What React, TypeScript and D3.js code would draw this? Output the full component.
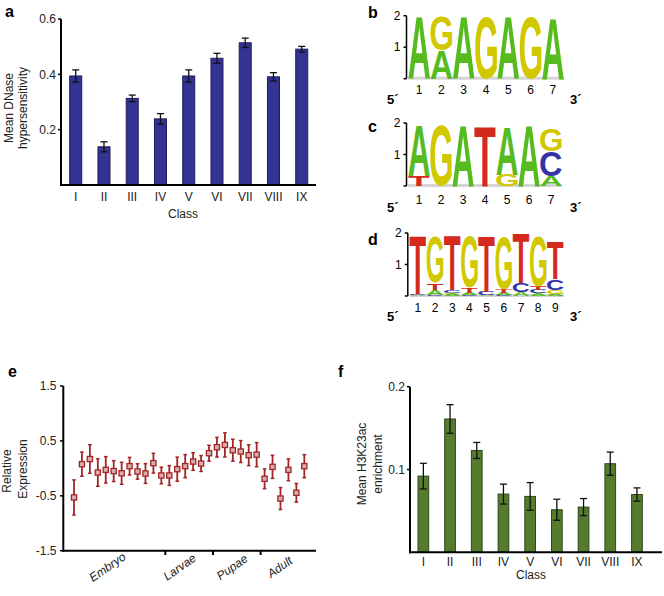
import React from "react";
import * as d3 from "d3";

const FONT = '"Liberation Sans", Arial, Helvetica, sans-serif';

// ---------- Panel a ----------
const classes = ["I", "II", "III", "IV", "V", "VI", "VII", "VIII", "IX"];
const dnaseMean = [0.394, 0.138, 0.313, 0.239, 0.394, 0.458, 0.514, 0.391, 0.491];
const dnaseErr = [0.022, 0.018, 0.012, 0.019, 0.022, 0.018, 0.017, 0.015, 0.01];
const dnaseTicks = [0.2, 0.4, 0.6];

// ---------- Panel f ----------
const h3Mean = [0.092, 0.161, 0.123, 0.0703, 0.0675, 0.0514, 0.0546, 0.107, 0.0698];
const h3Err = [0.0155, 0.0173, 0.0097, 0.012, 0.0167, 0.0127, 0.0103, 0.014, 0.008];
const h3Ticks = [0.1, 0.2];

// ---------- Panel e ----------
const exprMean = [-0.53, 0.076, 0.17, -0.076, -0.027, -0.05, -0.09, 0.04, -0.057, -0.094, 0.094, -0.13, -0.13, -0.015, 0.04, 0.124, 0.088, 0.276, 0.385, 0.427, 0.33, 0.306, 0.24, 0.25, -0.19, 0.027, -0.55, -0.027, -0.445, 0.04];
const exprErr = [0.32, 0.22, 0.26, 0.25, 0.24, 0.19, 0.2, 0.16, 0.14, 0.18, 0.18, 0.15, 0.18, 0.22, 0.21, 0.16, 0.145, 0.145, 0.18, 0.22, 0.2, 0.2, 0.19, 0.22, 0.18, 0.21, 0.2, 0.2, 0.17, 0.21];
const exprTicks = [-1.5, -0.5, 0.5, 1.5];
const stageNames = ["Embryo", "Larvae", "Pupae", "Adult"];
const stageLabelIdx = [4.2, 13.3, 19.9, 25.9];
const stageBounds = [11.5, 17.5, 23.5];

// ---------- Logos (bottom -> top, heights in bits) ----------
type Col = [string, number][];
const logoB: Col[] = [
  [["A", 1.98]],
  [["A", 0.9], ["G", 1.08]],
  [["A", 1.98]],
  [["G", 1.98]],
  [["A", 1.98]],
  [["G", 1.96]],
  [["A", 1.95]],
];
const logoC: Col[] = [
  [["T", 0.33], ["A", 1.61]],
  [["G", 1.93]],
  [["A", 1.93]],
  [["T", 1.9]],
  [["G", 0.36], ["A", 1.52]],
  [["A", 1.93]],
  [["A", 0.31], ["C", 0.8], ["G", 0.7]],
];
const logoD: Col[] = [
  [["A", 0.03], ["C", 0.04], ["T", 1.86]],
  [["C", 0.04], ["A", 0.15], ["T", 0.22], ["G", 1.46]],
  [["A", 0.06], ["G", 0.04], ["C", 0.08], ["T", 1.72]],
  [["C", 0.04], ["A", 0.06], ["T", 0.17], ["G", 1.62]],
  [["A", 0.04], ["C", 0.1], ["T", 1.76]],
  [["C", 0.03], ["A", 0.07], ["T", 0.1], ["G", 1.68]],
  [["A", 0.12], ["C", 0.28], ["T", 1.55]],
  [["A", 0.08], ["C", 0.1], ["T", 0.12], ["G", 1.58]],
  [["A", 0.07], ["G", 0.12], ["C", 0.35], ["T", 1.2]],
];
const bitTicks = [0, 1, 2];

const letterColor: Record<string, string> = {
  A: "#55bb1e",
  C: "#3434a8",
  G: "#d2c800",
  T: "#d42a1e",
};

const metricsCache: Record<string, { l: number; r: number; a: number; d: number }> = {};
function letterMetrics(ch: string) {
  if (metricsCache[ch]) return metricsCache[ch];
  let res = { l: 0, r: 70, a: 72, d: 0 };
  try {
    const ctx = document.createElement("canvas").getContext("2d");
    if (ctx) {
      ctx.font = `bold 100px ${FONT}`;
      const m = ctx.measureText(ch);
      if (m.actualBoundingBoxRight !== undefined) {
        res = {
          l: m.actualBoundingBoxLeft,
          r: m.actualBoundingBoxRight,
          a: m.actualBoundingBoxAscent,
          d: m.actualBoundingBoxDescent,
        };
      }
    }
  } catch (e) {}
  metricsCache[ch] = res;
  return res;
}

function Letter({ ch, x, y, w, h }: { ch: string; x: number; y: number; w: number; h: number }) {
  if (h < 0.3) return null;
  const m = letterMetrics(ch);
  const sx = w / (m.l + m.r);
  const sy = h / (m.a + m.d);
  return (
    <text
      x={0}
      y={0}
      fontSize={100}
      fontWeight="bold"
      fontFamily={FONT}
      fill={letterColor[ch]}
      transform={`translate(${x},${y + h}) scale(${sx},${sy}) translate(${m.l},${-m.d})`}
    >
      {ch}
    </text>
  );
}

function Logo({ cols, x0, x1, base, label, labelY, numY, primeY }: { cols: Col[]; x0: number; x1: number; base: number; label: string; labelY: number; numY: number; primeY: number }) {
  const y = d3.scaleLinear().domain([0, 2]).range([base, base - 63]);
  const xb = d3.scaleBand<number>().domain(cols.map((_, i) => i)).range([x0, x1]);
  const w = xb.bandwidth();
  const axisX = x0 - 1.5;
  return (
    <g fontFamily={FONT}>
      <text x={368} y={labelY} fontSize={16} fontWeight="bold">{label}</text>
      <rect x={x0} y={base - 2} width={x1 - x0} height={3} fill="#d4d4d4" />
      {cols.map((col, i) => {
        let acc = 0;
        return (
          <g key={i}>
            {col.map(([ch, v], j) => {
              const yTop = y(acc + v);
              const yBot = y(acc);
              acc += v;
              return <Letter key={j} ch={ch} x={(xb(i) as number) + 0.3} y={yTop} w={w - 0.6} h={yBot - yTop} />;
            })}
          </g>
        );
      })}
      <line x1={axisX} x2={axisX} y1={y(2)} y2={y(0)} stroke="#000" strokeWidth={1.5} />
      {bitTicks.map((t) => (
        <g key={t}>
          <line x1={axisX - 3} x2={axisX} y1={y(t)} y2={y(t)} stroke="#000" strokeWidth={1.5} />
          {t > 0 && (
            <text x={axisX - 6} y={y(t)} dy="0.35em" fontSize={12} textAnchor="end">{t}</text>
          )}
        </g>
      ))}
      {cols.map((_, i) => (
        <text key={i} x={(xb(i) as number) + w / 2} y={numY} dy="0.35em" fontSize={12} textAnchor="middle">
          {i + 1}
        </text>
      ))}
      <text x={387} y={primeY} dy="0.35em" fontSize={13} fontWeight="bold">5´</text>
      <text x={570} y={primeY} dy="0.35em" fontSize={13} fontWeight="bold">3´</text>
    </g>
  );
}

function BarPanel(props: {
  values: number[]; errs: number[]; ticks: number[]; yMax: number;
  axisX: number; axisRight: number; yTop: number; yBottom: number;
  bandStart: number; step: number; barW: number; fill: string; stroke: string;
  tickY: number; classX: number; classY: number; ylines: string[]; ylx: number[]; yly: number;
  label: string; labelX: number; labelY: number; tickLabelEnd: number;
}) {
  const p = props;
  const x = d3.scaleBand().domain(classes).range([p.bandStart, p.bandStart + p.step * classes.length]);
  const y = d3.scaleLinear().domain([0, p.yMax]).range([p.yBottom, p.yTop]);
  return (
    <g fontFamily={FONT}>
      <text x={p.labelX} y={p.labelY} fontSize={16} fontWeight="bold">{p.label}</text>
      {p.values.map((v, i) => {
        const cx = (x(classes[i]) as number) + x.bandwidth() / 2;
        return (
          <g key={i}>
            <rect x={cx - p.barW / 2} y={y(v)} width={p.barW} height={y(0) - y(v)} fill={p.fill} stroke={p.stroke} strokeWidth={1} />
            <line x1={cx} x2={cx} y1={y(v + p.errs[i])} y2={y(v - p.errs[i])} stroke="#111" strokeWidth={1.3} />
            <line x1={cx - 3.5} x2={cx + 3.5} y1={y(v + p.errs[i])} y2={y(v + p.errs[i])} stroke="#111" strokeWidth={1.3} />
            <line x1={cx - 3.5} x2={cx + 3.5} y1={y(v - p.errs[i])} y2={y(v - p.errs[i])} stroke="#111" strokeWidth={1.3} />
            <text x={cx} y={p.tickY} dy="0.35em" fontSize={12} textAnchor="middle" fill="#222">{classes[i]}</text>
          </g>
        );
      })}
      <line x1={p.axisX} x2={p.axisX} y1={p.yTop} y2={p.yBottom + 1} stroke="#000" strokeWidth={2} />
      <line x1={p.axisX - 1} x2={p.axisRight} y1={p.yBottom} y2={p.yBottom} stroke="#000" strokeWidth={2} />
      {p.ticks.map((t) => (
        <g key={t}>
          <line x1={p.axisX - 3} x2={p.axisX} y1={y(t)} y2={y(t)} stroke="#000" strokeWidth={1.5} />
          <text x={p.tickLabelEnd} y={y(t)} dy="0.35em" fontSize={12} textAnchor="end" fill="#222">{String(t)}</text>
        </g>
      ))}
      <text x={p.classX} y={p.classY} dy="0.35em" fontSize={12} textAnchor="middle" fill="#222">Class</text>
      {p.ylines.map((s, i) => (
        <text key={i} transform={`translate(${p.ylx[i]},${p.yly}) rotate(-90)`} dy="0.35em" fontSize={12} textAnchor="middle" fill="#222">{s}</text>
      ))}
    </g>
  );
}

function ExprPanel() {
  const x = d3.scaleLinear().domain([0, exprMean.length - 1]).range([74, 304.3]);
  const y = d3.scaleLinear().domain([-1.5, 1.5]).range([550.7, 386]);
  const red = "#a32424";
  return (
    <g fontFamily={FONT}>
      <text x={8} y={377} fontSize={16} fontWeight="bold">e</text>
      {exprMean.map((v, i) => (
        <g key={i}>
          <line x1={x(i)} x2={x(i)} y1={y(v + exprErr[i])} y2={y(v - exprErr[i])} stroke={red} strokeWidth={1.8} />
          <line x1={x(i) - 1.8} x2={x(i) + 1.8} y1={y(v + exprErr[i])} y2={y(v + exprErr[i])} stroke={red} strokeWidth={1.5} />
          <line x1={x(i) - 1.8} x2={x(i) + 1.8} y1={y(v - exprErr[i])} y2={y(v - exprErr[i])} stroke={red} strokeWidth={1.5} />
          <rect x={x(i) - 2.6} y={y(v) - 2.6} width={5.2} height={5.2} fill="#d6b0b0" stroke={red} strokeWidth={1.3} />
        </g>
      ))}
      <line x1={63.3} x2={63.3} y1={386} y2={551.7} stroke="#000" strokeWidth={2} />
      <line x1={62.3} x2={316} y1={550.7} y2={550.7} stroke="#000" strokeWidth={2} />
      {exprTicks.map((t) => (
        <g key={t}>
          <line x1={60} x2={63.3} y1={y(t)} y2={y(t)} stroke="#000" strokeWidth={1.5} />
          <text x={56.5} y={y(t)} dy="0.35em" fontSize={12} textAnchor="end" fill="#222">{String(t)}</text>
        </g>
      ))}
      {stageBounds.map((b) => (
        <line key={b} x1={x(b)} x2={x(b)} y1={550.7} y2={555} stroke="#000" strokeWidth={2} />
      ))}
      {stageNames.map((s, i) => (
        <text key={s} transform={`translate(${x(stageLabelIdx[i])},567) rotate(-35)`} dy="0.35em" fontSize={12} fontStyle="italic" textAnchor="middle" fill="#222">{s}</text>
      ))}
      <text transform="translate(7,471) rotate(-90)" dy="0.35em" fontSize={12} textAnchor="middle" fill="#222">Relative</text>
      <text transform="translate(22.5,469) rotate(-90)" dy="0.35em" fontSize={12} textAnchor="middle" fill="#222">Expression</text>
    </g>
  );
}

export default function App() {
  return (
    <svg width={664} height={596} style={{ position: "absolute", left: 0, top: 0, background: "#fff" }}>
      <rect width={664} height={596} fill="#fff" />
      <BarPanel
        values={dnaseMean} errs={dnaseErr} ticks={dnaseTicks} yMax={0.6}
        axisX={61} axisRight={316} yTop={19} yBottom={185}
        bandStart={61.6} step={28.25} barW={12} fill="#333394" stroke="#1c1c5c"
        tickY={197} classX={183} classY={213.5} ylines={["Mean DNase", "hypersensitivity"]} ylx={[9, 22.5]} yly={108}
        label="a" labelX={5} labelY={17} tickLabelEnd={56}
      />
      <BarPanel
        values={h3Mean} errs={h3Err} ticks={h3Ticks} yMax={0.2}
        axisX={410} axisRight={662} yTop={386.7} yBottom={552.3}
        bandStart={410} step={26.7} barW={10.7} fill="#557b2e" stroke="#2e4818"
        tickY={562} classX={531} classY={574.5} ylines={["Mean H3K23ac", "enrichment"]} ylx={[361.7, 378]} yly={464}
        label="f" labelX={338} labelY={377} tickLabelEnd={405}
      />
      <ExprPanel />
      <Logo cols={logoB} x0={408} x1={564} base={78.7} label="b" labelY={18} numY={90} primeY={99} />
      <Logo cols={logoC} x0={408} x1={562} base={186} label="c" labelY={132} numY={199.5} primeY={207} />
      <Logo cols={logoD} x0={409.3} x1={564} base={296} label="d" labelY={245} numY={307.5} primeY={316} />
    </svg>
  );
}
